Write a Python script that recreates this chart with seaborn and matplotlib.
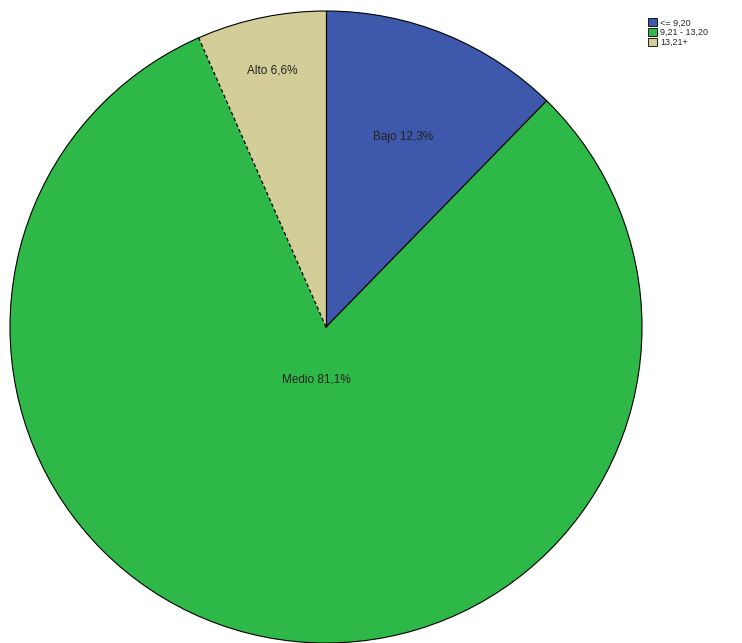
import numpy as np
import matplotlib
matplotlib.use("Agg")
import matplotlib.pyplot as plt
import matplotlib.patches as mpatches
import seaborn as sns

# pie data (percentages)
categories = ["Bajo", "Medio", "Alto"]
legend_labels = ["<= 9,20", "9,21 - 13,20", "13,21+"]
percent = [12.3, 81.1, 6.6]
colors = ["#3E58AC", "#2EB848", "#D3CE97"]
# radial position of each label, as a fraction of the radius
label_radius = [0.65, 0.17, 0.83]

sns.set_theme(style="white")
plt.rcParams["font.family"] = ["Liberation Sans", "DejaVu Sans"]

fig = plt.figure(figsize=(7.42, 6.43), dpi=100)
ax = fig.add_axes([10 / 742, 0.0, 632 / 742, 632 / 643])

wedges, _ = ax.pie(percent, colors=colors, startangle=90, counterclock=False,
                   radius=1.0, wedgeprops=dict(linewidth=0))

# outline and radial edges (the Alto/Medio border is dashed in the original)
ax.add_patch(mpatches.Circle((0, 0), 1.0, fill=False, edgecolor="black",
                             linewidth=0.8, clip_on=False))
for i, w in enumerate(wedges):
    ang = np.deg2rad(w.theta2)
    style = (0, (3, 2)) if categories[i] == "Alto" else "-"
    ax.plot([0, np.cos(ang)], [0, np.sin(ang)], color="black", linewidth=0.9,
            linestyle=style, clip_on=False)

# labels
for i, w in enumerate(wedges):
    mid = np.deg2rad((w.theta1 + w.theta2) / 2)
    r = label_radius[i]
    txt = f"{categories[i]} {percent[i]:.1f}%".replace(".", ",")
    ax.text(r * np.cos(mid), r * np.sin(mid), txt, ha="center", va="center",
            fontsize=8.5, color="#222222")

ax.set_xlim(-1.0, 1.0)
ax.set_ylim(-1.0, 1.0)
ax.set_aspect("equal")
ax.axis("off")

handles = [mpatches.Patch(facecolor=c, edgecolor="black", linewidth=0.6) for c in colors]
fig.legend(handles, legend_labels, loc="upper left", bbox_to_anchor=(642 / 742, 1 - 12 / 643),
           frameon=False, fontsize=6.5, handlelength=1.0, handleheight=0.9,
           handletextpad=0.3, labelspacing=0.1, borderpad=0.2)

fig.savefig("out.png", dpi=100)
